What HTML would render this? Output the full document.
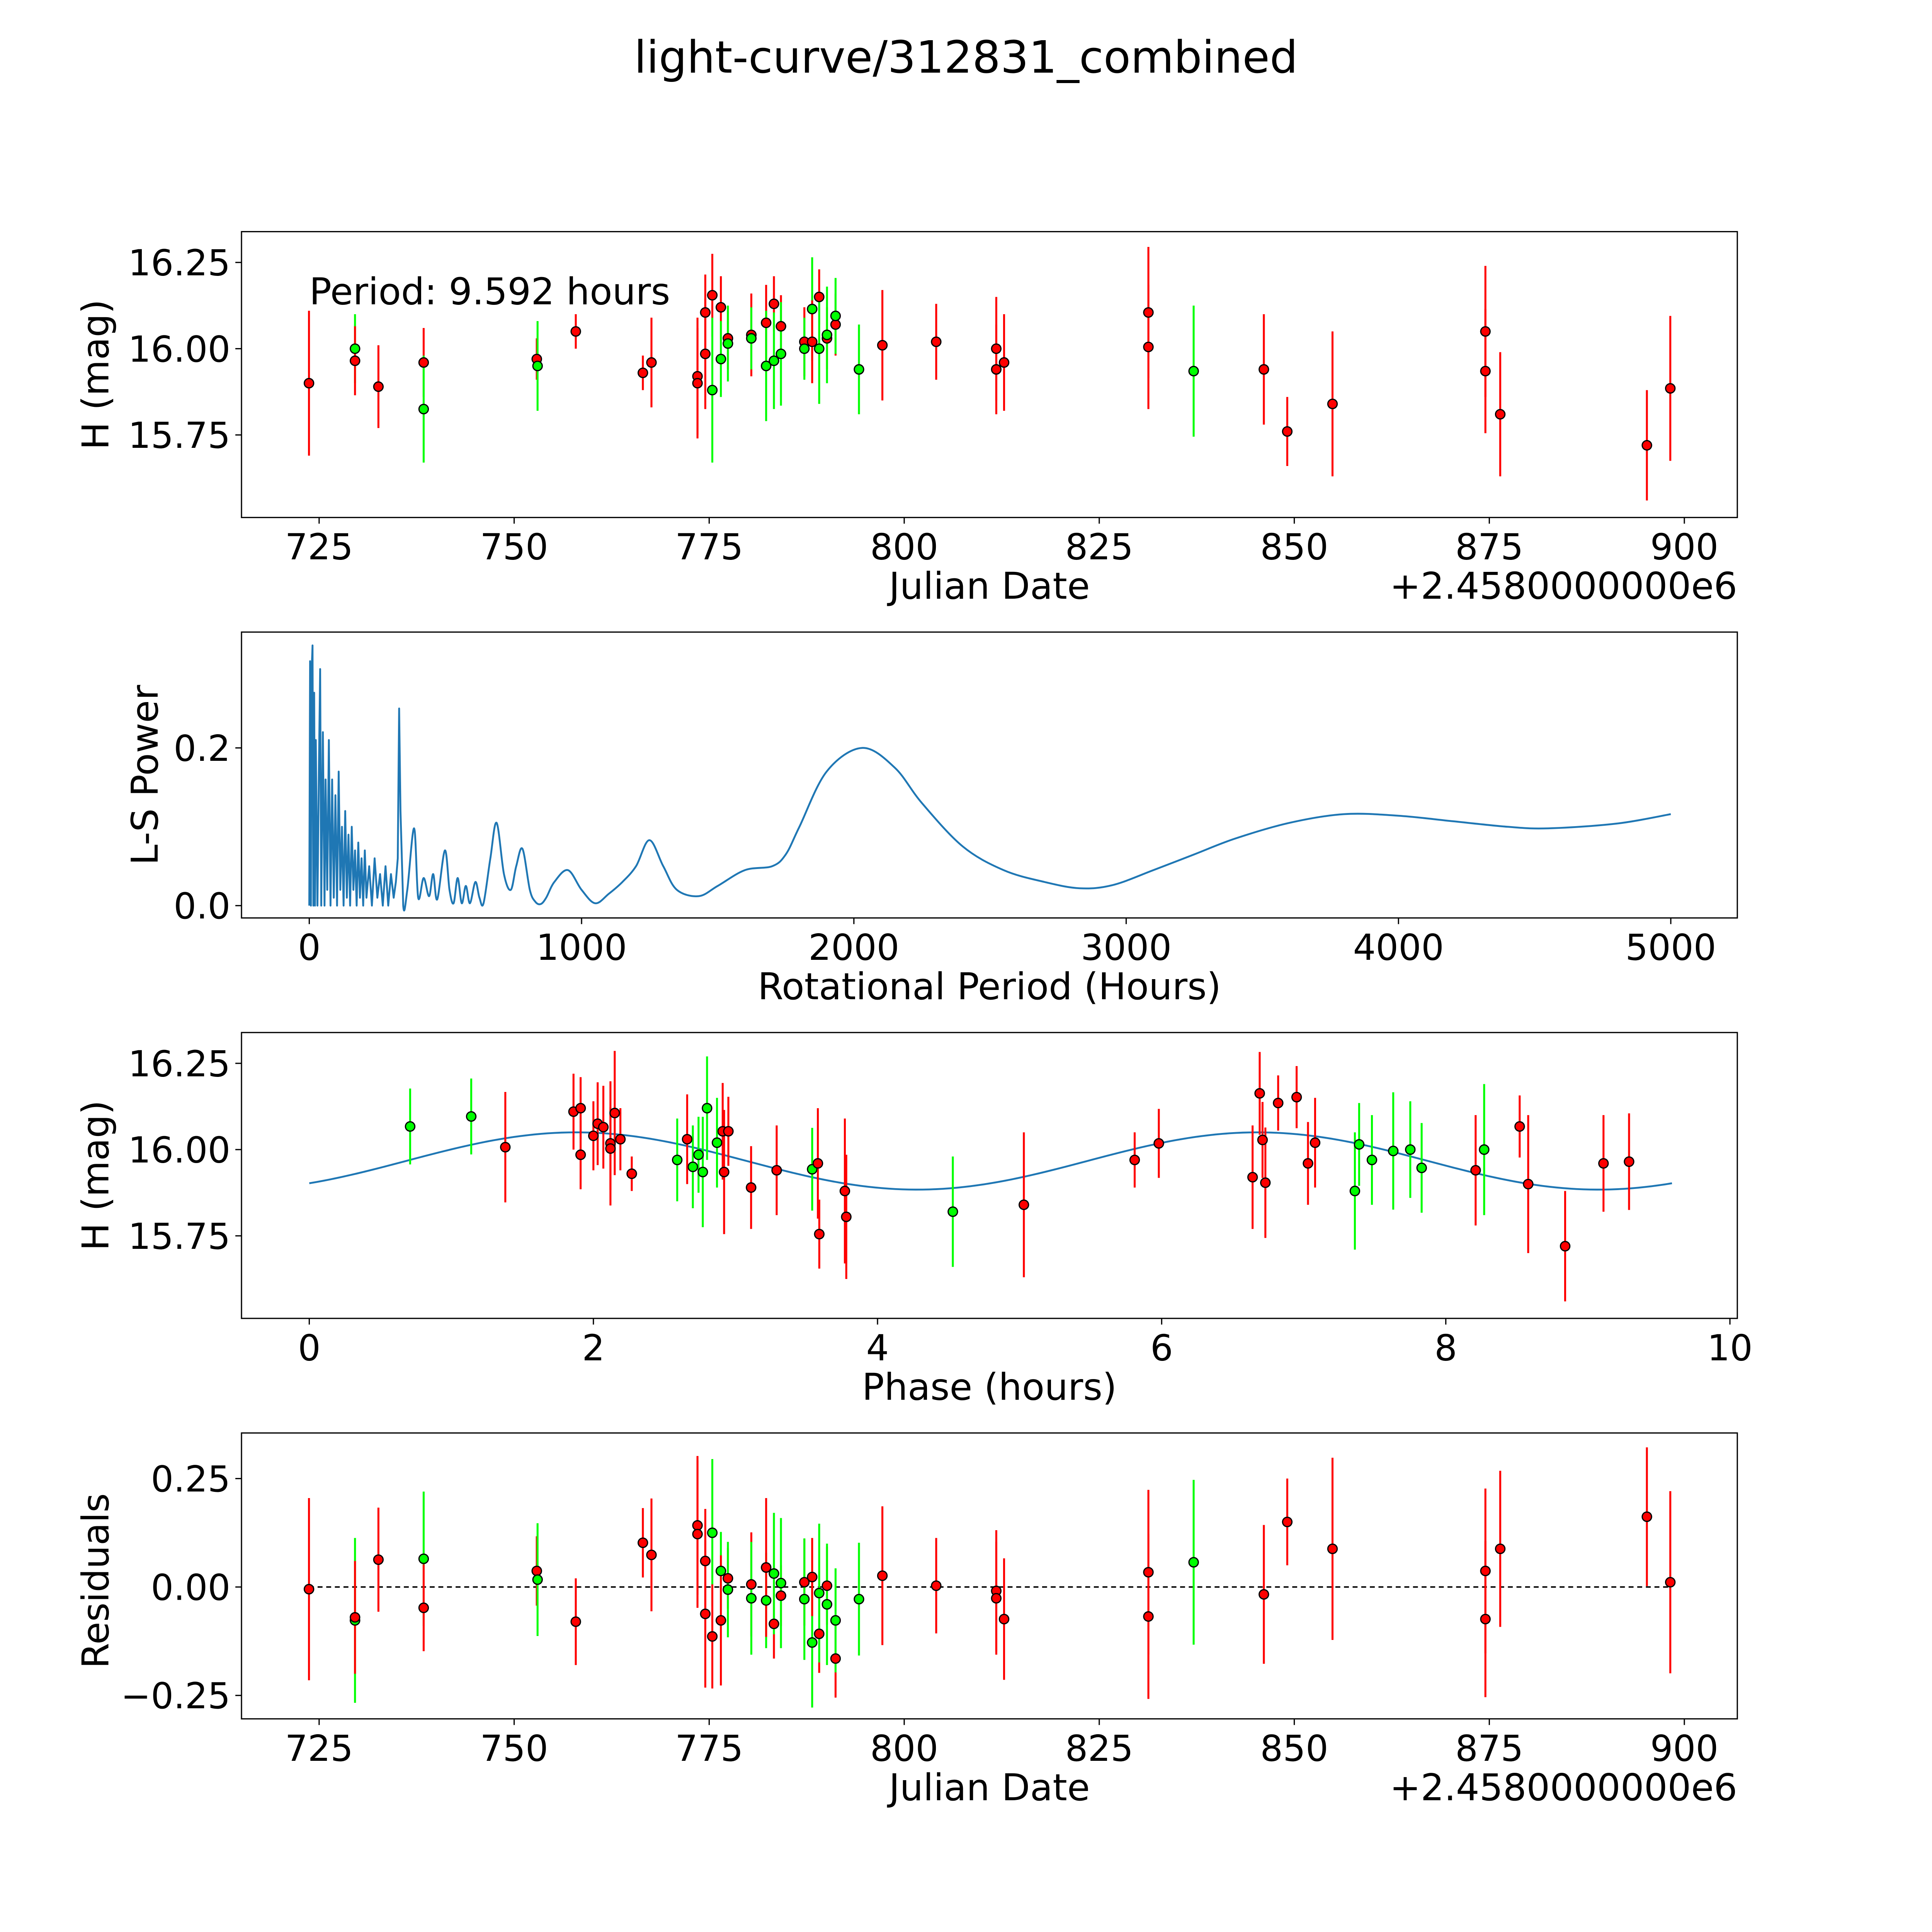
<!DOCTYPE html>
<html><head><meta charset="utf-8"><style>
html,body{margin:0;padding:0;background:#fff;width:100%;height:100%;overflow:hidden;}
svg{display:block;width:100vw;height:100vh;}
text{font-family:"DejaVu Sans","Liberation Sans",sans-serif;fill:#000;}
</style></head><body>
<svg id="fig" xmlns="http://www.w3.org/2000/svg" viewBox="0 0 1568 1568" preserveAspectRatio="none">
<rect x="0" y="0" width="1568" height="1568" fill="#fff"/>
<text x="784" y="59" font-size="36" text-anchor="middle">light-curve/312831_combined</text>
</svg>
<script>
// ---- Panel 1 data (Julian date offset, H mag, error, filter color) ----
const jd   = [723.7,729.6,729.6,732.6,738.4,738.4,752.9,753.0,757.9,766.5,767.6,773.5,773.5,774.5,774.5,775.4,775.4,776.5,776.5,777.4,777.4,780.4,780.4,782.3,782.3,783.3,783.3,784.2,784.2,787.2,787.2,788.2,788.2,789.1,789.1,790.1,790.1,791.2,791.2,794.2,797.2,804.1,811.8,811.8,812.8,831.3,831.3,837.1,846.1,849.1,854.9,874.5,874.5,876.4,895.2,898.2];
const mag  = [15.90,16.00,15.965,15.89,15.96,15.825,15.97,15.95,16.05,15.93,15.96,15.92,15.90,16.105,15.985,16.155,15.88,16.12,15.97,16.03,16.015,16.04,16.03,16.075,15.95,16.13,15.965,16.065,15.985,16.02,16.00,16.115,16.02,16.15,16.00,16.03,16.04,16.07,16.095,15.94,16.01,16.02,16.00,15.94,15.96,16.105,16.005,15.935,15.94,15.76,15.84,16.05,15.935,15.81,15.72,15.885];
const err  = [0.21,0.10,0.10,0.12,0.10,0.155,0.06,0.13,0.05,0.05,0.13,0.17,0.16,0.11,0.16,0.12,0.21,0.09,0.11,0.09,0.11,0.12,0.09,0.11,0.16,0.08,0.14,0.09,0.15,0.10,0.09,0.15,0.12,0.08,0.16,0.09,0.14,0.09,0.11,0.13,0.16,0.11,0.15,0.13,0.14,0.19,0.18,0.19,0.16,0.10,0.21,0.19,0.18,0.18,0.16,0.21];
const col  = ["r","g","r","r","r","g","r","g","r","r","r","r","r","r","r","r","g","r","g","r","g","r","g","r","g","r","g","r","g","r","g","g","r","r","g","r","g","r","g","g","r","r","r","r","r","r","r","g","r","r","r","r","r","r","r","r"];
// ---- Panel 3 phase data ----
const phase = [0.71,1.14,1.38,1.86,1.91,1.91,2.0,2.03,2.07,2.12,2.12,2.15,2.19,2.27,2.59,2.66,2.70,2.74,2.77,2.80,2.87,2.91,2.92,2.95,3.11,3.29,3.54,3.58,3.59,3.77,3.78,4.53,5.03,5.81,5.98,6.64,6.69,6.71,6.73,6.82,6.95,7.03,7.08,7.36,7.39,7.48,7.63,7.75,7.83,8.21,8.27,8.52,8.58,8.84,9.11,9.29];
const pmag  = [16.067,16.096,16.007,16.11,16.12,15.985,16.04,16.075,16.065,16.018,16.003,16.106,16.03,15.93,15.97,16.03,15.95,15.985,15.935,16.12,16.02,16.053,15.935,16.053,15.89,15.94,15.943,15.96,15.755,15.88,15.805,15.82,15.84,15.97,16.018,15.92,16.163,16.028,15.904,16.135,16.152,15.96,16.02,15.88,16.015,15.97,15.996,16.0,15.947,15.94,16.0,16.067,15.9,15.72,15.96,15.965];
const perr  = [0.11,0.11,0.16,0.11,0.09,0.10,0.10,0.12,0.12,0.18,0.12,0.18,0.09,0.05,0.12,0.13,0.12,0.11,0.16,0.15,0.13,0.14,0.18,0.10,0.12,0.13,0.12,0.16,0.10,0.21,0.18,0.16,0.21,0.08,0.10,0.15,0.12,0.11,0.16,0.08,0.09,0.12,0.13,0.17,0.12,0.13,0.17,0.14,0.13,0.16,0.19,0.09,0.20,0.16,0.14,0.14];
const pcol  = ["g","g","r","r","r","r","r","r","r","r","r","r","r","r","g","r","g","g","g","g","g","r","r","r","r","r","g","r","r","r","r","g","r","r","r","r","r","r","r","r","r","r","r","g","g","g","g","g","g","r","g","r","r","r","r","r"];
// ---- Fit curve parameters ----
const fitMean = 15.967, fitAmp = 0.083, fitPeak = 1.88, fitPeriod = 4.796, foldPeriod = 9.592;
// ---- Panel 4 residuals ----
const rjd  = [723.7,729.6,729.6,732.6,738.4,738.4,752.9,753.0,757.9,766.5,767.6,773.5,773.5,774.5,774.5,775.4,775.4,776.5,776.5,777.4,777.4,780.4,780.4,782.3,782.3,783.3,783.3,784.2,784.2,787.2,787.2,788.2,788.2,789.1,789.1,790.1,790.1,791.2,791.2,794.2,797.2,804.1,811.8,811.8,812.8,831.3,831.3,837.1,846.1,849.1,854.9,874.5,874.5,876.4,895.2,898.2];
const resid= [-0.005,-0.077,-0.07,0.063,0.065,-0.048,0.037,0.017,-0.08,0.102,0.074,0.142,0.122,0.06,-0.062,0.125,-0.114,0.037,-0.077,0.02,-0.006,0.006,-0.026,-0.031,0.045,-0.085,0.031,-0.02,0.009,0.011,-0.028,-0.128,0.023,-0.108,-0.014,0.003,-0.04,-0.165,-0.077,-0.028,0.026,0.003,-0.009,-0.026,-0.074,0.034,-0.068,0.057,-0.017,0.15,0.088,0.037,-0.074,0.088,0.162,0.011];
const rerr = [0.21,0.19,0.13,0.12,0.155,0.10,0.08,0.13,0.10,0.08,0.13,0.16,0.17,0.12,0.17,0.17,0.12,0.09,0.15,0.07,0.11,0.12,0.13,0.11,0.16,0.08,0.14,0.07,0.15,0.10,0.14,0.15,0.09,0.09,0.16,0.09,0.14,0.09,0.12,0.13,0.16,0.11,0.14,0.13,0.14,0.19,0.19,0.19,0.16,0.10,0.21,0.19,0.18,0.18,0.16,0.21];
const rcol = ["r","g","r","r","g","r","r","g","r","r","r","r","r","r","r","g","r","g","r","r","g","r","g","g","r","r","g","r","g","r","g","g","r","r","g","r","g","r","g","g","r","r","r","r","r","r","r","g","r","r","r","r","r","r","r","r"];
// ---- Panel 2 periodogram ----
const lsPeriod = [0,3,6,9,12,15,18,21,24,30,36,40,44,50,56,60,66,72,78,84,90,96,102,108,114,120,126,132,138,144,150,156,162,168,174,180,186,192,198,204,210,220,230,240,250,260,270,280,290,300,310,318,325,330,335,345,360,385,400,420,440,455,470,498,515,530,545,560,575,590,610,625,640,665,688,715,740,760,783,810,830,850,870,900,950,1000,1050,1100,1150,1200,1249,1300,1350,1430,1500,1600,1700,1750,1800,1900,2030,2150,2250,2400,2550,2700,2830,2950,3100,3250,3400,3600,3800,4000,4200,4400,4550,4800,5000];
const lsPower  = [0,0.31,0.0,0.30,0.33,0.0,0.27,0.0,0.21,0.0,0.19,0.30,0.0,0.22,0.0,0.16,0.02,0.21,0.0,0.16,0.01,0.14,0.0,0.17,0.02,0.10,0.0,0.12,0.01,0.09,0.0,0.10,0.02,0.07,0.0,0.08,0.01,0.06,0.0,0.07,0.01,0.05,0.0,0.06,0.01,0.04,0.0,0.05,0.0,0.04,0.01,0.03,0.06,0.25,0.12,0.0,0.02,0.098,0.01,0.035,0.012,0.04,0.008,0.07,0.02,0.003,0.035,0.003,0.025,0.003,0.03,0.01,0.003,0.06,0.105,0.04,0.02,0.05,0.072,0.02,0.005,0.002,0.01,0.03,0.045,0.02,0.003,0.015,0.03,0.05,0.083,0.05,0.02,0.012,0.025,0.045,0.05,0.065,0.10,0.17,0.20,0.175,0.13,0.075,0.045,0.03,0.022,0.026,0.045,0.065,0.085,0.105,0.116,0.114,0.107,0.10,0.098,0.104,0.116];

const svg = document.getElementById('fig');
const NS = 'http://www.w3.org/2000/svg';
function mk(tag, attrs, parent){
  const e = document.createElementNS(NS, tag);
  for (const k in attrs) e.setAttribute(k, attrs[k]);
  (parent||svg).appendChild(e);
  return e;
}
function txt(s, x, y, size, anchor, parent){
  const t = mk('text', {x:x, y:y, 'font-size':size, 'text-anchor':anchor||'middle'}, parent);
  t.textContent = s;
  return t;
}
const L = 196, R = 1410;
function lin(d0, d1, p0, p1){ return v => p0 + (v - d0) * (p1 - p0) / (d1 - d0); }
const COL = {r:'#ff0000', g:'#00ff00'};

function frame(top, bottom, name){
  const g = mk('g', {});
  
  
  const r = mk('rect', {x:L, y:top, width:R-L, height:bottom-top, fill:'none', stroke:'#000', 'stroke-width':1});
  
  
  g.appendChild(r);
  return g;
}
function xTicks(g, vals, labels, sx, bottom, name){
  vals.forEach((v,i)=>{
    mk('line', {x1:sx(v), x2:sx(v), y1:bottom, y2:bottom+5, stroke:'#000', 'stroke-width':1}, g);
    const t = txt(labels[i], sx(v), bottom+34, 29, 'middle', g);
    
    
  });
}
function yTicks(g, vals, labels, sy, name){
  vals.forEach((v,i)=>{
    mk('line', {x1:L-5, x2:L, y1:sy(v), y2:sy(v), stroke:'#000', 'stroke-width':1}, g);
    const t = txt(labels[i], L-9, sy(v)+10.5, 29, 'end', g);
    
    
  });
}
function label(g, s, x, y, rot, name){
  const t = txt(s, x, y, 30, 'middle', g);
  if (rot) t.setAttribute('transform', 'rotate(-90 ' + x + ' ' + y + ')');
  
  
}
function points(g, xs, ys, es, cs, sx, sy, name){
  xs.forEach((x,i)=>{
    const l = mk('line', {x1:sx(x), x2:sx(x), y1:sy(ys[i]-es[i]), y2:sy(ys[i]+es[i]), stroke:COL[cs[i]], 'stroke-width':1.6}, g);
    
    
  });
  xs.forEach((x,i)=>{
    const c = mk('circle', {cx:sx(x), cy:sy(ys[i]), r:3.8, fill:COL[cs[i]], stroke:'#000', 'stroke-width':1}, g);
    
    
  });
}

// Panel 1
{
  const top=188, bot=420;
  const g = frame(top, bot, 'light-curve-panel');
  const sx = lin(725, 900, 259, 1367), sy = lin(16.0, 16.25, 283, 213);
  xTicks(g, [725,750,775,800,825,850,875,900], ['725','750','775','800','825','850','875','900'], sx, bot, 'date-x');
  yTicks(g, [15.75,16.0,16.25], ['15.75','16.00','16.25'], sy, 'mag-y');
  points(g, jd, mag, err, col, sx, sy, 'observation');
  label(g, 'Julian Date', 803, 486, false, 'x-axis-title');
  label(g, 'H (mag)', 88, 304, true, 'y-axis-title');
  const o = txt('+2.4580000000e6', 1410, 486, 30, 'end', g);
  
  
  const p = txt('Period: 9.592 hours', 251, 247, 30, 'start', g);
  
  
}
// Panel 2
{
  const top=513, bot=745;
  const g = frame(top, bot, 'periodogram-panel');
  const sx = lin(0, 5000, 251, 1356), sy = lin(0, 0.2, 735, 607);
  xTicks(g, [0,1000,2000,3000,4000,5000], ['0','1000','2000','3000','4000','5000'], sx, bot, 'period-x');
  yTicks(g, [0,0.2], ['0.0','0.2'], sy, 'power-y');
  const pts = lsPeriod.map((p,i)=>[sx(p), sy(lsPower[i])]);
  let d = 'M' + pts[0][0].toFixed(2) + ' ' + pts[0][1].toFixed(2);
  for (let i=1;i<pts.length;i++){
    if (lsPeriod[i] <= 345){
      d += 'L' + pts[i][0].toFixed(2) + ' ' + pts[i][1].toFixed(2);
    } else {
      const p0 = pts[i-2] || pts[i-1], p1 = pts[i-1], p2 = pts[i], p3 = pts[i+1] || pts[i];
      const c1x = p1[0] + (p2[0]-p0[0])/6, c1y = p1[1] + (p2[1]-p0[1])/6;
      const c2x = p2[0] - (p3[0]-p1[0])/6, c2y = p2[1] - (p3[1]-p1[1])/6;
      d += 'C' + c1x.toFixed(2)+' '+c1y.toFixed(2)+' '+c2x.toFixed(2)+' '+c2y.toFixed(2)+' '+p2[0].toFixed(2)+' '+p2[1].toFixed(2);
    }
  }
  const path = mk('path', {d:d, fill:'none', stroke:'#1f77b4', 'stroke-width':1.5, 'stroke-linejoin':'round'}, g);
  
  
  label(g, 'Rotational Period (Hours)', 803, 811, false, 'x-axis-title');
  label(g, 'L-S Power', 128, 629, true, 'y-axis-title');
}
// Panel 3
{
  const top=838, bot=1070;
  const g = frame(top, bot, 'phase-panel');
  const sx = lin(0, 10, 251, 1404), sy = lin(16.0, 16.25, 933, 863);
  xTicks(g, [0,2,4,6,8,10], ['0','2','4','6','8','10'], sx, bot, 'phase-x');
  yTicks(g, [15.75,16.0,16.25], ['15.75','16.00','16.25'], sy, 'mag-y');
  let d = '';
  for (let i=0;i<=200;i++){
    const p = foldPeriod*i/200;
    const m = fitMean + fitAmp*Math.cos(2*Math.PI*(p-fitPeak)/fitPeriod);
    d += (i?'L':'M') + sx(p).toFixed(2) + ' ' + sy(m).toFixed(2);
  }
  const fit = mk('path', {d:d, fill:'none', stroke:'#1f77b4', 'stroke-width':1.5}, g);
  
  
  points(g, phase, pmag, perr, pcol, sx, sy, 'phased-observation');
  label(g, 'Phase (hours)', 803, 1136, false, 'x-axis-title');
  label(g, 'H (mag)', 88, 954, true, 'y-axis-title');
}
// Panel 4
{
  const top=1163, bot=1395;
  const g = frame(top, bot, 'residuals-panel');
  const sx = lin(725, 900, 259, 1367), sy = lin(0, 0.25, 1288, 1200);
  xTicks(g, [725,750,775,800,825,850,875,900], ['725','750','775','800','825','850','875','900'], sx, bot, 'date-x');
  yTicks(g, [-0.25,0,0.25], ['\u22120.25','0.00','0.25'], sy, 'resid-y');
  const z = mk('line', {x1:sx(723.7), x2:sx(898.2), y1:sy(0), y2:sy(0), stroke:'#000', 'stroke-width':1.2, 'stroke-dasharray':'4 3'}, g);
  
  
  points(g, rjd, resid, rerr, rcol, sx, sy, 'residual');
  label(g, 'Julian Date', 803, 1461, false, 'x-axis-title');
  label(g, 'Residuals', 88, 1283, true, 'y-axis-title');
  const o = txt('+2.4580000000e6', 1410, 1461, 30, 'end', g);
  
  
}
</script>
</body></html>
